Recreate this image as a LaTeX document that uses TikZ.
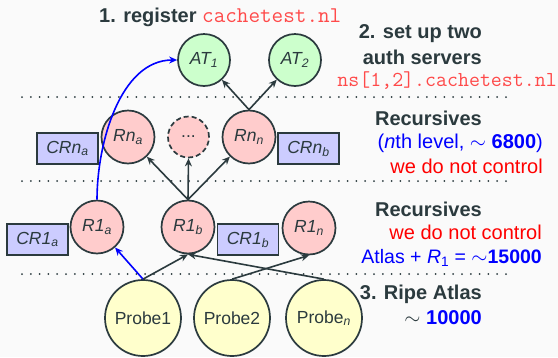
\documentclass[tikz,border=0pt]{standalone}
\usepackage{fontspec}
\setmainfont{Liberation Sans}
\usetikzlibrary{arrows.meta}
\definecolor{ink}{HTML}{2B3A3E}
\definecolor{bgc}{HTML}{FAFAFA}
\definecolor{atfill}{HTML}{CCFFCC}
\definecolor{rfill}{HTML}{FFCCCC}
\definecolor{pfill}{HTML}{FFFFCC}
\definecolor{cfill}{HTML}{CCCCFF}
\definecolor{ttred}{HTML}{FF4A4A}
\newcommand\sbs[1]{\textsubscript{#1}}
\newcommand\bigtxt{\fontsize{20}{24}\selectfont}
\newcommand\nodetxt{\fontsize{17.5}{20}\selectfont}
\tikzset{
  srv/.style={circle, draw=ink, line width=1.7pt, text=ink, font=\nodetxt\itshape, inner sep=0pt},
  auth/.style={srv, fill=atfill, minimum size=52pt},
  rec/.style={srv, fill=rfill, minimum size=53pt},
  gap/.style={srv, fill=rfill, dashed, dash pattern=on 5pt off 3pt, minimum size=41pt, font=\nodetxt},
  probe/.style={srv, fill=pfill, minimum size=76pt, font=\nodetxt},
  cache/.style={rectangle, draw=ink, line width=1.7pt, fill=cfill, text=ink, font=\nodetxt\itshape, minimum width=61pt, minimum height=31pt, inner sep=0pt},
  link/.style={draw=ink, line width=1.6pt, -{Stealth[length=8pt,width=7pt]}},
  bluelink/.style={draw=blue, line width=1.6pt, -{Stealth[length=8pt,width=7pt]}},
  sep/.style={draw=ink, line width=2pt, line cap=round, dash pattern=on 0pt off 8.8pt},
  lbl/.style={font=\bigtxt, text=ink, inner sep=0pt},
}
\begin{document}
\begin{tikzpicture}[x=1pt, y=-1pt]
  \fill[bgc] (0,0) rectangle (558,357);
  \useasboundingbox (0,0) rectangle (558,357);

  % layer separators
  \draw[sep] (22,97) -- (506,97);
  \draw[sep] (22,181) -- (506,181);
  \draw[sep] (22,274) -- (506,274);

  % authoritative servers
  \node[auth] (at1) at (204,60) {AT\sbs{1}};
  \node[auth] (at2) at (295,60) {AT\sbs{2}};

  % n-th level recursives
  \node[rec] (rna) at (128,137) {Rn\sbs{a}};
  \node[gap] (rdots) at (188.5,137) {...};
  \node[rec] (rnn) at (249,137) {Rn\sbs{n}};
  \node[cache] (crna) at (67.5,148.5) {CRn\sbs{a}};
  \node[cache] (crnb) at (308.5,148.5) {CRn\sbs{b}};

  % first level recursives
  \node[rec] (r1a) at (97,227) {R1\sbs{a}};
  \node[rec] (r1b) at (188,227) {R1\sbs{b}};
  \node[rec] (r1n) at (309,228) {R1\sbs{n}};
  \node[cache] (cr1a) at (37.5,239.5) {CR1\sbs{a}};
  \node[cache] (cr1b) at (248,239.5) {CR1\sbs{b}};

  % probes
  \node[probe] (p1) at (143,318) {Probe1};
  \node[probe] (p2) at (232,318) {Probe2};
  \node[probe] (pn) at (324,318) {Probe\sbs{\itshape n}};

  % query paths
  \draw[bluelink] (p1.north) -- (r1a);
  \draw[link] (p1.north) -- (r1b.south);
  \draw[link] (pn.north) -- (r1b.south);
  \draw[link] (p2.north) -- (r1n.south);
  \draw[link] (r1b.north) -- (rna);
  \draw[link] (r1b.north) -- (rdots.south);
  \draw[link] (r1b.north) -- (rnn);
  \draw[link] (rnn.north) -- (at1);
  \draw[link] (rnn.north) -- (at2);
  \draw[bluelink] (r1a.north) to[out=90, in=180, looseness=0.9] (at1.west);

  % annotations
  \node[lbl, anchor=base west] (t1) at (99,22) {\bfseries 1. register \textcolor{ttred}{\mdseries\fontsize{22.5}{24}\selectfont\ttfamily cachetest.nl}};
  \node[lbl, anchor=base east] (t2a) at (482,38) {\bfseries 2. set up two};
  \node[lbl, anchor=base east] (t2b) at (482,64) {\bfseries auth servers};
  \node[lbl, anchor=base east, text=ttred, font=\fontsize{21.3}{22}\selectfont\ttfamily] (t2c) at (557,86) {ns[1,2].cachetest.nl};

  \node[lbl, anchor=base east] (rn1) at (482,125) {\bfseries Recursives};
  \node[lbl, anchor=base east, text=blue] (rn2) at (543,148) {(\textit{n}th level, $\sim$ \textbf{6800})};
  \node[lbl, anchor=base east, text=red] (rn3) at (543,173) {we do not control};

  \node[lbl, anchor=base east] (r11) at (482,216) {\bfseries Recursives};
  \node[lbl, anchor=base east, text=red] (r12) at (542,239.5) {we do not control};
  \node[lbl, anchor=base east, text=blue, font=\fontsize{19.5}{22}\selectfont] (r13) at (542,263) {Atlas + \textit{R}\sbs{1} = $\sim$\textbf{15000}};

  \node[lbl, anchor=base east] (ra1) at (482,299) {\bfseries 3. Ripe Atlas};
  \node[lbl, anchor=base east] (ra2) at (482,324) {$\sim$ \textcolor{blue}{\bfseries 10000}};
\end{tikzpicture}
\end{document}
